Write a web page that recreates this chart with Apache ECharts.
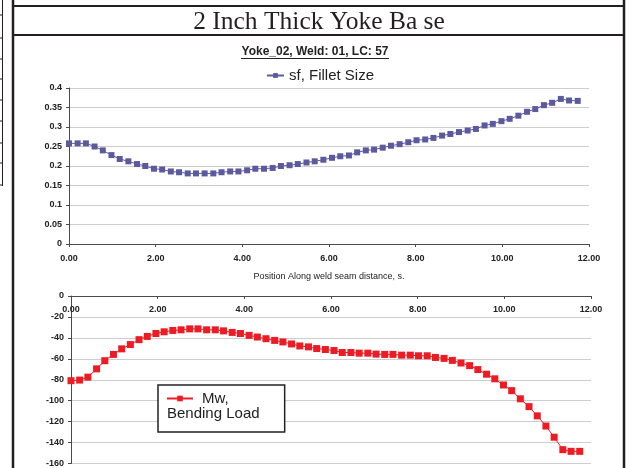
<!DOCTYPE html>
<html>
<head>
<meta charset="utf-8">
<script src="https://cdn.jsdelivr.net/npm/echarts@6/dist/echarts.min.js"></script>
<style>
  html, body { margin: 0; padding: 0; background: #fff; }
  #chart { width: 630px; height: 468px; }
</style>
</head>
<body>
<div id="chart"></div>
<script>
var title = '2 Inch Thick Yoke Ba se';
var subTitle = 'Yoke_02, Weld: 01, LC: 57';
var xName = 'Position Along weld seam distance, s.';

// position along the weld seam (s)
var positions = [0.00, 0.20, 0.39, 0.59, 0.78, 0.98, 1.17, 1.37, 1.57, 1.76,
  1.96, 2.15, 2.35, 2.54, 2.74, 2.93, 3.13, 3.33, 3.52, 3.72,
  3.91, 4.11, 4.30, 4.50, 4.70, 4.89, 5.09, 5.28, 5.48, 5.67,
  5.87, 6.07, 6.26, 6.46, 6.65, 6.85, 7.04, 7.24, 7.43, 7.63,
  7.83, 8.02, 8.22, 8.41, 8.61, 8.80, 9.00, 9.20, 9.39, 9.59,
  9.78, 9.98, 10.17, 10.37, 10.57, 10.76, 10.96, 11.15, 11.35, 11.54,
  11.74];

// sf, Fillet Size
var filletSize = [0.258, 0.258, 0.258, 0.250, 0.240, 0.228, 0.218, 0.212, 0.205, 0.200,
  0.193, 0.191, 0.186, 0.184, 0.181, 0.181, 0.181, 0.181, 0.184, 0.186,
  0.186, 0.189, 0.193, 0.193, 0.195, 0.200, 0.202, 0.205, 0.209, 0.212,
  0.216, 0.221, 0.225, 0.227, 0.235, 0.240, 0.242, 0.247, 0.252, 0.256,
  0.261, 0.266, 0.268, 0.272, 0.278, 0.282, 0.287, 0.291, 0.295, 0.304,
  0.308, 0.315, 0.321, 0.329, 0.339, 0.346, 0.356, 0.362, 0.372, 0.368,
  0.367];

// Mw, Bending Load
var bendingLoad = [-80.9, -80.3, -77.5, -69.6, -61.8, -55.8, -50.5, -46.4, -41.7, -38.6,
  -35.8, -34.2, -32.9, -32.3, -31.4, -31.4, -32.3, -32.3, -33.3, -34.8,
  -35.8, -37.6, -39.2, -40.8, -42.4, -43.9, -45.8, -47.7, -48.6, -50.2,
  -51.1, -52.1, -54.0, -54.0, -54.6, -54.6, -55.5, -55.8, -55.8, -56.5,
  -56.5, -57.1, -57.1, -58.7, -59.6, -61.5, -64.0, -66.5, -70.3, -74.7,
  -79.1, -85.0, -90.4, -98.2, -105.7, -114.5, -124.2, -134.9, -146.8, -148.4,
  -148.4];

function pairs(xs, ys) {
  var out = [];
  for (var i = 0; i < xs.length; i++) out.push([xs[i], ys[i]]);
  return out;
}

var axisDark = '#4a4a4a';
var gridGray = '#cdcdcd';
var labelStyle = { color: '#222', fontSize: 9, fontWeight: 'bold', fontFamily: 'Liberation Sans, Arial' };

// frame and leftover table lines
var frame = [
  { type: 'line', shape: { x1: 13, y1: 0, x2: 13, y2: 468 }, style: { stroke: '#231f20', lineWidth: 2.5 } },
  { type: 'line', shape: { x1: 624, y1: 0, x2: 624, y2: 468 }, style: { stroke: '#231f20', lineWidth: 2.5 } },
  { type: 'line', shape: { x1: 13, y1: 6, x2: 624, y2: 6 }, style: { stroke: '#231f20', lineWidth: 2 } },
  { type: 'line', shape: { x1: 13, y1: 35, x2: 624, y2: 35 }, style: { stroke: '#231f20', lineWidth: 2 } },
  { type: 'line', shape: { x1: 2.5, y1: 0, x2: 2.5, y2: 186 }, style: { stroke: '#231f20', lineWidth: 1 } },
  { type: 'text', x: 319, y: 22, style: { text: title, font: '25.5px "Liberation Serif", "Times New Roman", serif', fill: '#231f20', textAlign: 'center', textVerticalAlign: 'middle' } },
  { type: 'text', x: 315, y: 52, style: { text: subTitle, font: 'bold 12px "Liberation Sans", Arial', fill: '#222', textAlign: 'center', textVerticalAlign: 'middle' } },
  { type: 'line', shape: { x1: 241, y1: 58.5, x2: 389, y2: 58.5 }, style: { stroke: '#222', lineWidth: 1 } },
  { type: 'text', x: 167, y: 414, z: 100, style: { text: 'Bending Load', font: '15px "Liberation Sans", Arial', fill: '#222', textVerticalAlign: 'middle' } }
];
[15, 38, 59, 79, 100, 121, 143, 163, 185].forEach(function (y) {
  frame.push({ type: 'line', shape: { x1: 0, y1: y, x2: 3, y2: y }, style: { stroke: '#231f20', lineWidth: 1 } });
});

var myChart = echarts.init(document.getElementById('chart'));

var option = {
  animation: false,
  backgroundColor: '#fff',
  graphic: { elements: frame },
  legend: [
    {
      data: ['sf, Fillet Size'],
      left: 261, top: 63,
      itemWidth: 17, itemHeight: 6, itemGap: 2,
      textStyle: { color: '#222', fontSize: 15, fontFamily: 'Liberation Sans, Arial' }
    },
    {
      data: ['Mw,'],
      left: 158, top: 385,
      orient: 'vertical',
      padding: [6, 56, 26, 8],
      itemWidth: 26, itemHeight: 7,
      borderColor: '#222', borderWidth: 1.5, backgroundColor: '#fff',
      textStyle: { color: '#222', fontSize: 15, fontFamily: 'Liberation Sans, Arial', padding: [0, 0, 0, 4] }
    }
  ],
  grid: [
    { left: 69, right: 41, top: 88, height: 156 },
    { left: 71, right: 39, top: 296, height: 170 }
  ],
  xAxis: [
    {
      gridIndex: 0, type: 'value', min: 0, max: 12, interval: 2,
      name: xName, nameLocation: 'middle', nameGap: 28,
      nameTextStyle: { color: '#222', fontSize: 9, fontFamily: 'Liberation Sans, Arial' },
      axisLine: { lineStyle: { color: axisDark } },
      axisTick: { length: 3, lineStyle: { color: axisDark } },
      axisLabel: Object.assign({ margin: 10, formatter: function (v) { return v.toFixed(2); } }, labelStyle),
      splitLine: { show: false }
    },
    {
      gridIndex: 1, type: 'value', min: 0, max: 12, interval: 2, position: 'top',
      axisLine: { lineStyle: { color: axisDark } },
      axisTick: { inside: true, length: 3, lineStyle: { color: axisDark } },
      axisLabel: Object.assign({ inside: true, margin: 9, formatter: function (v) { return v.toFixed(2); } }, labelStyle),
      splitLine: { show: false }
    }
  ],
  yAxis: [
    {
      gridIndex: 0, type: 'value', min: 0, max: 0.4, interval: 0.05,
      axisLine: { show: true, lineStyle: { color: axisDark } },
      axisTick: { show: true, length: 3, lineStyle: { color: axisDark } },
      axisLabel: Object.assign({ margin: 7 }, labelStyle),
      splitLine: { lineStyle: { color: gridGray, width: 1 } }
    },
    {
      gridIndex: 1, type: 'value', min: -160, max: 0, interval: 20,
      axisLine: { show: true, lineStyle: { color: axisDark } },
      axisTick: { show: true, length: 3, lineStyle: { color: axisDark } },
      axisLabel: Object.assign({ margin: 7 }, labelStyle),
      splitLine: { lineStyle: { color: gridGray, width: 1 } }
    }
  ],
  series: [
    {
      name: 'sf, Fillet Size',
      type: 'line',
      xAxisIndex: 0, yAxisIndex: 0,
      data: pairs(positions, filletSize),
      symbol: 'rect', symbolSize: 6,
      lineStyle: { width: 1 },
      color: '#5b5a9f'
    },
    {
      name: 'Mw,',
      type: 'line',
      xAxisIndex: 1, yAxisIndex: 1,
      data: pairs(positions, bendingLoad),
      symbol: 'rect', symbolSize: 7,
      lineStyle: { width: 1 },
      color: '#ed1c24'
    }
  ]
};

myChart.setOption(option);
</script>
</body>
</html>
